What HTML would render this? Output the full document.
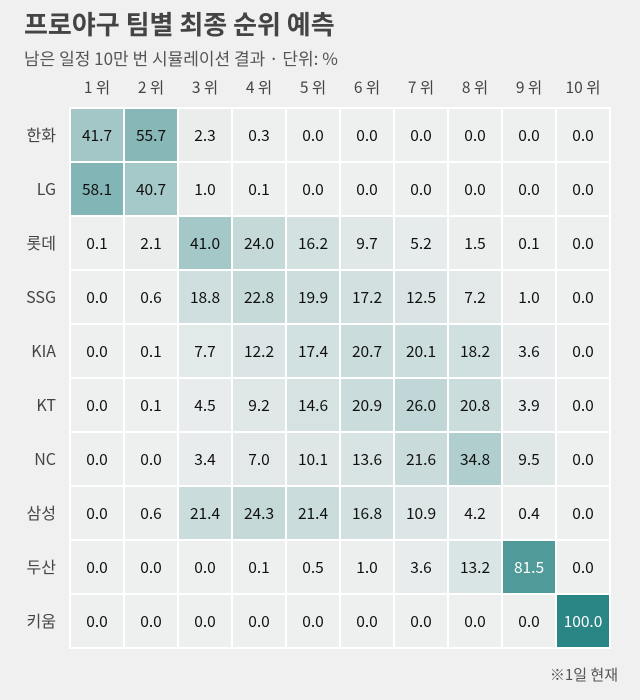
<!DOCTYPE html>
<html><head><meta charset="utf-8">
<style>
body{margin:0;background:#f0f0f0;font-family:"Noto Sans CJK KR","Liberation Sans",sans-serif;}
#wrap{position:relative;width:640px;height:700px;overflow:hidden;}
.t{position:absolute;white-space:nowrap;}
</style></head><body>
<div id="wrap">
<div class="t" style="left:24px;top:5px;font-size:26px;font-weight:bold;color:#444;">프로야구 팀별 최종 순위 예측</div>
<div class="t" style="left:24px;top:45px;font-size:17px;color:#555;">남은 일정 10만 번 시뮬레이션 결과 · 단위: %</div>
<svg id="hm" width="640" height="700" style="position:absolute;left:0;top:0"></svg>
<div class="t" style="right:22px;top:664px;font-size:15px;color:#555;">※1일 현재</div>
</div>
<script>
const teams=["한화","LG","롯데","SSG","KIA","KT","NC","삼성","두산","키움"];
const ranks=["1 위","2 위","3 위","4 위","5 위","6 위","7 위","8 위","9 위","10 위"];
const r_hanwha=[41.7,55.7,2.3,0.3,0.0,0.0,0.0,0.0,0.0,0.0];
const r_lg=[58.1,40.7,1.0,0.1,0.0,0.0,0.0,0.0,0.0,0.0];
const r_lotte=[0.1,2.1,41.0,24.0,16.2,9.7,5.2,1.5,0.1,0.0];
const r_ssg=[0.0,0.6,18.8,22.8,19.9,17.2,12.5,7.2,1.0,0.0];
const r_kia=[0.0,0.1,7.7,12.2,17.4,20.7,20.1,18.2,3.6,0.0];
const r_kt=[0.0,0.1,4.5,9.2,14.6,20.9,26.0,20.8,3.9,0.0];
const r_nc=[0.0,0.0,3.4,7.0,10.1,13.6,21.6,34.8,9.5,0.0];
const r_samsung=[0.0,0.6,21.4,24.3,21.4,16.8,10.9,4.2,0.4,0.0];
const r_doosan=[0.0,0.0,0.0,0.1,0.5,1.0,3.6,13.2,81.5,0.0];
const r_kiwoom=[0.0,0.0,0.0,0.0,0.0,0.0,0.0,0.0,0.0,100.0];
const values=[r_hanwha,r_lg,r_lotte,r_ssg,r_kia,r_kt,r_nc,r_samsung,r_doosan,r_kiwoom];

const X0=70,Y0=108,CW=54,CH=54;
const xs=i=>X0+i*CW, ys=j=>Y0+j*CH;
function col(v){
  const t=Math.pow(v/100,1.1);
  const a=[238,239,239],b=[42,133,133];
  return `rgb(${a.map((c,k)=>Math.round(c+(b[k]-c)*t)).join(',')})`;
}
const svg=document.getElementById('hm');
const NS="http://www.w3.org/2000/svg";
function mk(tag,attrs){const e=document.createElementNS(NS,tag);for(const k in attrs)e.setAttribute(k,attrs[k]);svg.appendChild(e);return e;}
const bg=mk('rect',{x:X0-1,y:Y0-1,width:CW*ranks.length+2,height:CH*teams.length+2,fill:'#ffffff'});


ranks.forEach((r,i)=>{
  const e=mk('text',{x:xs(i)+CW/2,y:93,'text-anchor':'middle','font-size':15.5,fill:'#444'});
  e.textContent=r;
  
  
});
teams.forEach((tm,j)=>{
  const e=mk('text',{x:56,y:ys(j)+CH/2+6,'text-anchor':'end','font-size':16,fill:'#444'});
  e.textContent=tm;
  
  
  values[j].forEach((v,i)=>{
    const r=mk('rect',{x:xs(i)+1,y:ys(j)+1,width:CW-2,height:CH-2,fill:col(v)});
    
    
    const t=mk('text',{x:xs(i)+CW/2,y:ys(j)+CH/2+6,'text-anchor':'middle','font-size':15.5,fill:v>70?'#fff':'#111'});
    t.textContent=v.toFixed(1);
    
    
  });
});
</script>
</body></html>
